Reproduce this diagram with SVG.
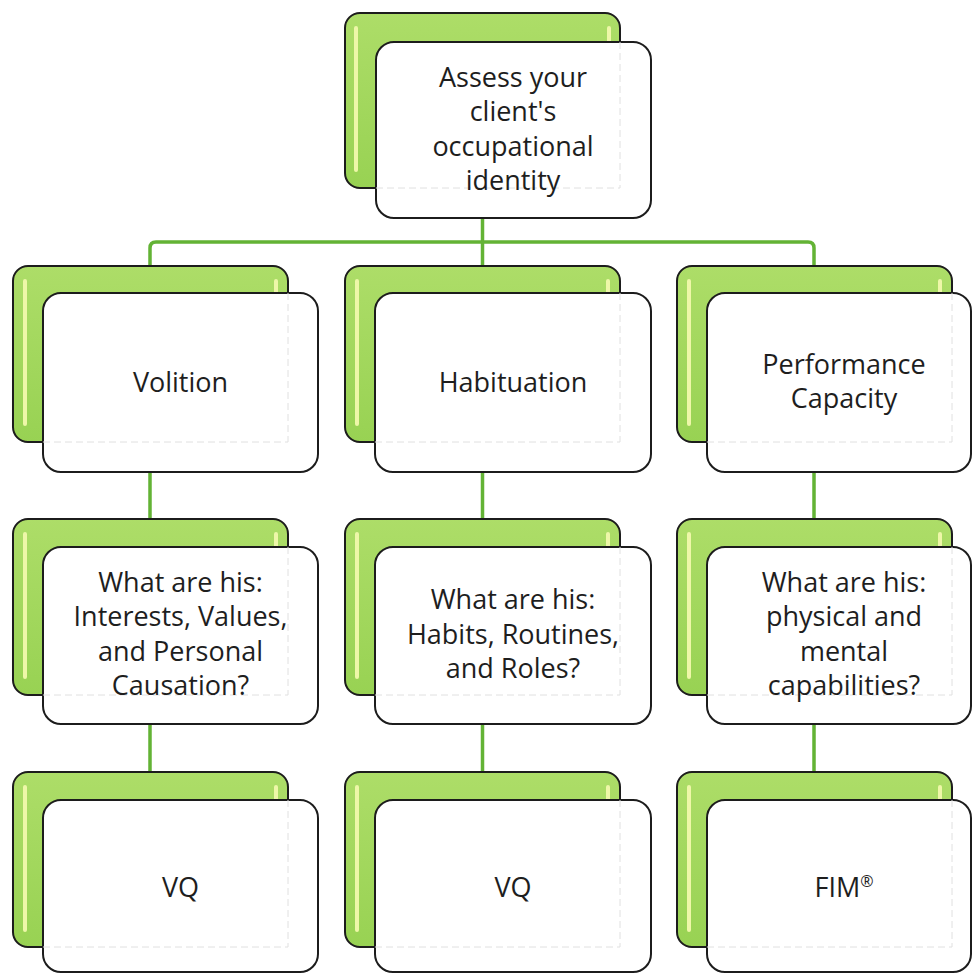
<svg xmlns="http://www.w3.org/2000/svg" width="973" height="974" viewBox="0 0 973 974">
<defs>
<linearGradient id="gg" x1="0" y1="0" x2="0" y2="1">
<stop offset="0" stop-color="#addd68"/>
<stop offset="1" stop-color="#98d253"/>
</linearGradient>
</defs>
<style>
.back{fill:url(#gg);stroke:#1c1c1c;stroke-width:2}
.hl{stroke:#eef7a8;stroke-width:4;stroke-linecap:round;fill:none}
.front{fill:#ffffff;stroke:#1c1c1c;stroke-width:2}
.ghost{fill:none;stroke:#e0e0e0;stroke-width:1;stroke-dasharray:7 4}
.conn{fill:none;stroke:#63b335;stroke-width:3.5}
text{font-family:"Open Sans","Liberation Sans",sans-serif;font-size:27px;fill:#1e1e1e;text-anchor:middle}
.sup{font-size:16px}
</style>
<rect width="973" height="974" fill="#ffffff"/>
<g id="connectors">
<path class="conn" d="M482.5,188 V266"/>
<path class="conn" d="M150,266 V248 Q150,242 156,242 H808 Q814,242 814,248 V266"/>
<path class="conn" d="M150,442 V519 M482.5,442 V519 M814,442 V519"/>
<path class="conn" d="M150,695 V772 M482.5,695 V772 M814,695 V772"/>
</g>
<g id="n-assess">
<rect class="back" x="345" y="13" width="275" height="175" rx="15"/>
<path class="hl" d="M356,28 V170 M609,28 V41"/>
<rect class="front" x="376" y="42" width="275" height="176" rx="18"/>
<path class="ghost" d="M376,188 H620 M620,42 V188"/>
<text x="513" y="87">Assess your</text>
<text x="513" y="121">client's</text>
<text x="513" y="156">occupational</text>
<text x="513" y="190">identity</text>
</g>
<g id="n-volition">
<rect class="back" x="13" y="266" width="275" height="176" rx="15"/>
<path class="hl" d="M25,281 V424 M276,281 V292"/>
<rect class="front" x="43" y="293" width="275" height="179" rx="18"/>
<path class="ghost" d="M43,442 H288 M288,293 V442"/>
<text x="180.5" y="392">Volition</text>
</g>
<g id="n-habituation">
<rect class="back" x="345" y="266" width="275" height="176" rx="15"/>
<path class="hl" d="M357,281 V424 M608,281 V292"/>
<rect class="front" x="375" y="293" width="276" height="179" rx="18"/>
<path class="ghost" d="M375,442 H620 M620,293 V442"/>
<text x="513" y="392">Habituation</text>
</g>
<g id="n-performance">
<rect class="back" x="677" y="266" width="275" height="176" rx="15"/>
<path class="hl" d="M689,281 V424 M940,281 V292"/>
<rect class="front" x="707" y="293" width="264" height="179" rx="18"/>
<path class="ghost" d="M707,442 H952 M952,293 V442"/>
<text x="844" y="374">Performance</text>
<text x="844" y="408">Capacity</text>
</g>
<g id="n-q-volition">
<rect class="back" x="13" y="519" width="275" height="176" rx="15"/>
<path class="hl" d="M25,534 V677 M276,534 V546"/>
<rect class="front" x="43" y="547" width="275" height="177" rx="18"/>
<path class="ghost" d="M43,695 H288 M288,547 V695"/>
<text x="180.5" y="592">What are his:</text>
<text x="180.5" y="626">Interests, Values,</text>
<text x="180.5" y="661">and Personal</text>
<text x="180.5" y="695">Causation?</text>
</g>
<g id="n-q-habituation">
<rect class="back" x="345" y="519" width="275" height="176" rx="15"/>
<path class="hl" d="M357,534 V677 M608,534 V546"/>
<rect class="front" x="375" y="547" width="276" height="177" rx="18"/>
<path class="ghost" d="M375,695 H620 M620,547 V695"/>
<text x="513" y="609">What are his:</text>
<text x="513" y="644">Habits, Routines,</text>
<text x="513" y="678">and Roles?</text>
</g>
<g id="n-q-performance">
<rect class="back" x="677" y="519" width="275" height="176" rx="15"/>
<path class="hl" d="M689,534 V677 M940,534 V546"/>
<rect class="front" x="707" y="547" width="264" height="177" rx="18"/>
<path class="ghost" d="M707,695 H952 M952,547 V695"/>
<text x="844" y="592">What are his:</text>
<text x="844" y="626">physical and</text>
<text x="844" y="661">mental</text>
<text x="844" y="695">capabilities?</text>
</g>
<g id="n-vq1">
<rect class="back" x="13" y="772" width="275" height="175" rx="15"/>
<path class="hl" d="M25,787 V930 M276,787 V799"/>
<rect class="front" x="43" y="800" width="275" height="172" rx="18"/>
<path class="ghost" d="M43,947 H288 M288,800 V947"/>
<text x="180.5" y="897">VQ</text>
</g>
<g id="n-vq2">
<rect class="back" x="345" y="772" width="275" height="175" rx="15"/>
<path class="hl" d="M357,787 V930 M608,787 V799"/>
<rect class="front" x="375" y="800" width="276" height="172" rx="18"/>
<path class="ghost" d="M375,947 H620 M620,800 V947"/>
<text x="513" y="897">VQ</text>
</g>
<g id="n-fim">
<rect class="back" x="677" y="772" width="275" height="175" rx="15"/>
<path class="hl" d="M689,787 V930 M940,787 V799"/>
<rect class="front" x="707" y="800" width="264" height="172" rx="18"/>
<path class="ghost" d="M707,947 H952 M952,800 V947"/>
<text x="844" y="897">FIM<tspan class="sup" dy="-10">®</tspan></text>
</g>
</svg>
